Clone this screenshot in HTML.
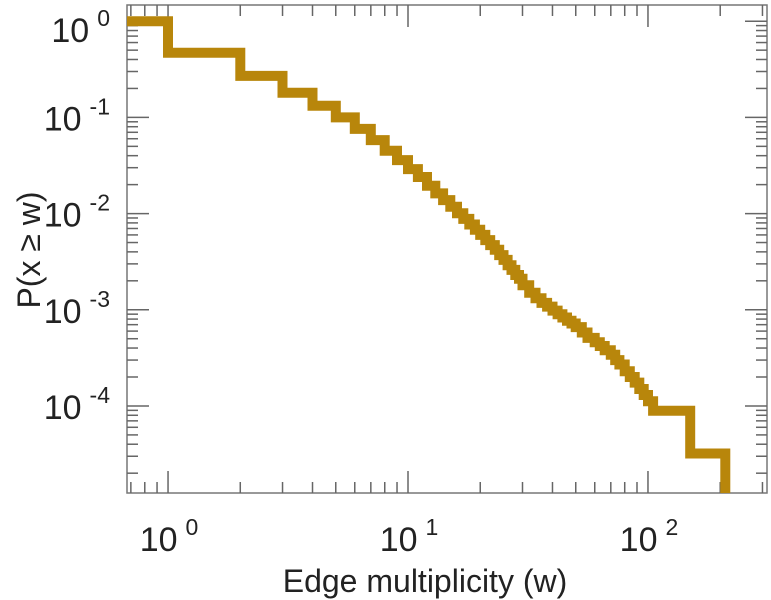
<!DOCTYPE html>
<html><head><meta charset="utf-8"><style>
html,body{margin:0;padding:0;background:#fff;}
svg{display:block;font-family:"Liberation Sans",sans-serif;}
</style></head><body>
<svg id="chart" width="771" height="600" viewBox="0 0 771 600">
<g id="axes"></g>
<g id="series"></g>
<text x="425" y="592" font-size="32" fill="#222" text-anchor="middle">Edge multiplicity (w)</text>
<text transform="translate(40,250) rotate(-90)" font-size="32" fill="#222" text-anchor="middle">P(x ≥ w)</text>
</svg>
<script>
// breakpoints (w) and the level of P(x >= w) to the right of each breakpoint
const wValues = [1,2,3,4,5,6,7,8,9,10,11,12,13,14,15,16,17,18,19,20,21,22,23,24,25,26,27,28,29,30,32,34,36,38,40,42,44,46,48,50,53,56,60,63,66,70,73,76,80,84,88,92,96,100,105,150,210];
const pValues = [0.47,0.27,0.18,0.132,0.1,0.076,0.058,0.045,0.036,0.029,0.024,0.0195,0.0162,0.0138,0.0118,0.0101,0.0088,0.0077,0.0068,0.006,0.0053,0.0047,0.0042,0.0037,0.0033,0.0029,0.0026,0.0023,0.0021,0.0018,0.0015,0.00132,0.00118,0.00108,0.00098,0.0009,0.00083,0.00077,0.00072,0.00066,0.00058,0.00051,0.00046,0.00042,0.00038,0.00034,0.0003,0.00027,0.00023,0.0002,0.000175,0.00015,0.00013,0.000112,0.000089,0.000032,0.0000115];
const pStart = 1;
const xTickExps = [0,1,2];
const yTickExps = [0,-1,-2,-3,-4];
const X0=127,X1=767,Y0=5,Y1=493;
const xMinLog=-0.171,xMaxLog=2.496;
const yTopLog=0.1685,yBotLog=-4.905;
function xs(w){return X0+(Math.log10(w)-xMinLog)/(xMaxLog-xMinLog)*(X1-X0);}
function ys(p){return Math.min(Y1,Y0+(yTopLog-Math.log10(p))/(yTopLog-yBotLog)*(Y1-Y0));}
const NS="http://www.w3.org/2000/svg";
const axes=document.getElementById('axes');
function line(x1,y1,x2,y2,name){const l=document.createElementNS(NS,'line');
l.setAttribute('x1',x1);l.setAttribute('y1',y1);l.setAttribute('x2',x2);l.setAttribute('y2',y2);
l.setAttribute('stroke','#666');l.setAttribute('stroke-width','1.5');


axes.appendChild(l);}
const box=document.createElementNS(NS,'rect');
box.setAttribute('x',X0);box.setAttribute('y',Y0);box.setAttribute('width',X1-X0);box.setAttribute('height',Y1-Y0);
box.setAttribute('fill','none');box.setAttribute('stroke','#777');box.setAttribute('stroke-width','1.5');


axes.appendChild(box);
for(let e=-1;e<=2;e++){for(let m=1;m<10;m++){const w=m*Math.pow(10,e);const x=xs(w);if(x<X0||x>X1)continue;
const len=m===1?22:11;line(x,Y1,x,Y1-len,'x-tick');line(x,Y0,x,Y0+len,'x-tick-top');}}
for(let e=-5;e<=0;e++){for(let m=1;m<10;m++){const p=m*Math.pow(10,e);const y=ys(p);if(y<Y0||y>=Y1)continue;
const len=m===1?22:11;line(X0,y,X0+len,y,'y-tick');line(X1,y,X1-len,y,'y-tick-right');}}
function label(x,y,exp,anchor,name){const t=document.createElementNS(NS,'text');
t.setAttribute('x',x);t.setAttribute('y',y);t.setAttribute('font-size','34');t.setAttribute('fill','#222');
t.setAttribute('text-anchor',anchor);


t.innerHTML='10<tspan font-size="23" dy="-16" dx="8">'+exp+'</tspan>';axes.appendChild(t);}
xTickExps.forEach(e=>label(xs(Math.pow(10,e))+1,551,e,'middle','x-tick-label'));
yTickExps.forEach(e=>label(110,e===0?42:ys(Math.pow(10,e))+13,e===0?'0':e,'end','y-tick-label'));
let d='M'+X0+','+ys(pStart).toFixed(1);
for(let i=0;i<wValues.length;i++){d+=' H'+xs(wValues[i]).toFixed(1);d+=' V'+ys(pValues[i]).toFixed(1);}
d+=' V'+Y1;
const path=document.createElementNS(NS,'path');
path.setAttribute('d',d);path.setAttribute('fill','none');path.setAttribute('stroke','#b8860b');
path.setAttribute('stroke-width','10');path.setAttribute('stroke-linejoin','miter');


document.getElementById('series').appendChild(path);
</script>
</body></html>
